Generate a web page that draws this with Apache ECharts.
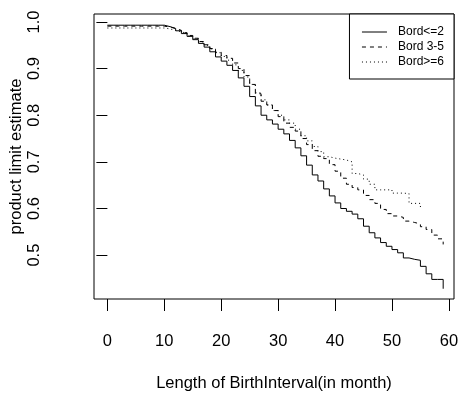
<!DOCTYPE html>
<html>
<head>
<meta charset="utf-8">
<script src="https://cdn.jsdelivr.net/npm/echarts@6/dist/echarts.min.js"></script>
<style>
  html, body { margin: 0; padding: 0; background: #fff; }
  #chart { width: 459px; height: 396px; }
</style>
</head>
<body>
<div id="chart"></div>
<script>
// months (x) and survival estimates
var months = [0,1,2,3,4,5,6,7,8,9,10,11,12,13,14,15,16,17,18,19,
              20,21,22,23,24,25,26,27,28,29,30,31,32,33,34,35,36,37,38,39,
              40,41,42,43,44,45,46,47,48,49,50,51,52,53,54,55,56,57,58,59];
var bordLow = [0.993,0.993,0.993,0.993,0.993,0.993,0.993,0.993,0.993,0.993,
               0.990,0.986,0.981,0.975,0.969,0.962,0.954,0.946,0.936,0.925,
               0.916,0.907,0.896,0.880,0.862,0.840,0.820,0.800,0.790,0.781,
               0.770,0.760,0.746,0.730,0.713,0.693,0.672,0.659,0.642,0.627,
               0.612,0.600,0.594,0.588,0.578,0.562,0.548,0.537,0.527,0.519,
               0.512,0.505,0.494,0.491,0.489,0.476,0.460,0.448,0.448,0.428];
var bordMid = [0.991,0.991,0.991,0.991,0.991,0.991,0.991,0.991,0.991,0.991,
               0.989,0.986,0.982,0.977,0.971,0.965,0.958,0.951,0.943,0.935,
               0.928,0.922,0.912,0.900,0.885,0.866,0.846,0.830,0.822,0.810,
               0.797,0.783,0.774,0.766,0.750,0.737,0.724,0.712,0.707,0.694,
               0.680,0.665,0.652,0.645,0.640,0.628,0.619,0.611,0.598,0.589,
               0.584,0.581,0.573,0.570,0.567,0.561,0.555,0.543,0.535,0.523];
var bordHigh = [0.987,0.987,0.987,0.987,0.987,0.987,0.987,0.987,0.987,0.987,
                0.985,0.982,0.979,0.975,0.970,0.964,0.957,0.950,0.942,0.934,
                0.926,0.918,0.908,0.896,0.882,0.866,0.848,0.833,0.822,0.810,
                0.800,0.790,0.783,0.770,0.756,0.745,0.733,0.722,0.711,0.708,
                0.706,0.704,0.700,0.675,0.672,0.663,0.652,0.640,0.640,0.640,
                0.633,0.633,0.632,0.611,0.611,0.600];
var seriesNames = ["Bord<=2", "Bord 3-5", "Bord>=6"];
var xTicks = [0,10,20,30,40,50,60];
var yTicks = [0.5,0.6,0.7,0.8,0.9,1.0];

function pairs(xs, ys) {
    var out = [];
    for (var i = 0; i < ys.length; i++) {
        out.push([xs[i], ys[i]]);
    }
    return out;
}

var font = "Liberation Sans, Arial, sans-serif";
var myChart = echarts.init(document.getElementById('chart'));

var option = {
    animation: false,
    backgroundColor: '#fff',
    grid: {
        left: 94, top: 14, right: 5, bottom: 97,
        outerBoundsMode: 'none',
        containLabel: false,
        show: true, borderColor: '#000', borderWidth: 1
    },
    legend: {
        data: seriesNames,
        orient: 'vertical',
        right: 5, top: 14,
        padding: [12, 10, 11, 12],
        itemGap: 3,
        itemWidth: 25,
        itemHeight: 14,
        borderColor: '#000',
        borderWidth: 1,
        borderRadius: 0,
        backgroundColor: '#fff',
        itemStyle: { opacity: 0, borderWidth: 0 },
        lineStyle: { width: 1 },
        textStyle: { fontFamily: font, fontSize: 12, color: '#000', padding: [0, 0, 0, 6] }
    },
    xAxis: {
        type: 'value',
        min: -2.35, max: 60.9,
        name: 'Length of BirthInterval(in month)',
        nameLocation: 'middle',
        nameGap: 76,
        nameMoveOverlap: false,
        nameTextStyle: { fontFamily: font, fontSize: 16.5, color: '#000' },
        splitLine: { show: false },
        axisLine: { show: false },
        axisTick: { show: true, length: 12, customValues: xTicks, lineStyle: { color: '#000' } },
        axisLabel: { customValues: xTicks, margin: 34, fontFamily: font, fontSize: 16.5, color: '#000' }
    },
    yAxis: {
        type: 'value',
        min: 0.406, max: 1.017,
        name: 'product limit estimate',
        nameLocation: 'middle',
        nameGap: 69,
        nameMoveOverlap: false,
        nameTextStyle: { fontFamily: font, fontSize: 16.5, color: '#000' },
        splitLine: { show: false },
        axisLine: { show: false },
        axisTick: { show: true, length: 11, customValues: yTicks, lineStyle: { color: '#000' } },
        axisLabel: {
            customValues: yTicks, rotate: 90, margin: 51,
            fontFamily: font, fontSize: 16.5, color: '#000',
            formatter: function (v) { return v.toFixed(1); }
        }
    },
    series: [{
        name: seriesNames[0], type: 'line', step: 'end', symbol: 'none',
        lineStyle: { color: '#000', width: 1, type: 'solid' },
        itemStyle: { color: '#000' },
        data: pairs(months, bordLow)
    }, {
        name: seriesNames[1], type: 'line', step: 'end', symbol: 'none',
        lineStyle: { color: '#000', width: 1, type: [4, 4] },
        itemStyle: { color: '#000' },
        data: pairs(months, bordMid)
    }, {
        name: seriesNames[2], type: 'line', step: 'end', symbol: 'none',
        lineStyle: { color: '#000', width: 1, type: [1, 3] },
        itemStyle: { color: '#000' },
        data: pairs(months, bordHigh)
    }]
};
myChart.setOption(option);
</script>
</body>
</html>
